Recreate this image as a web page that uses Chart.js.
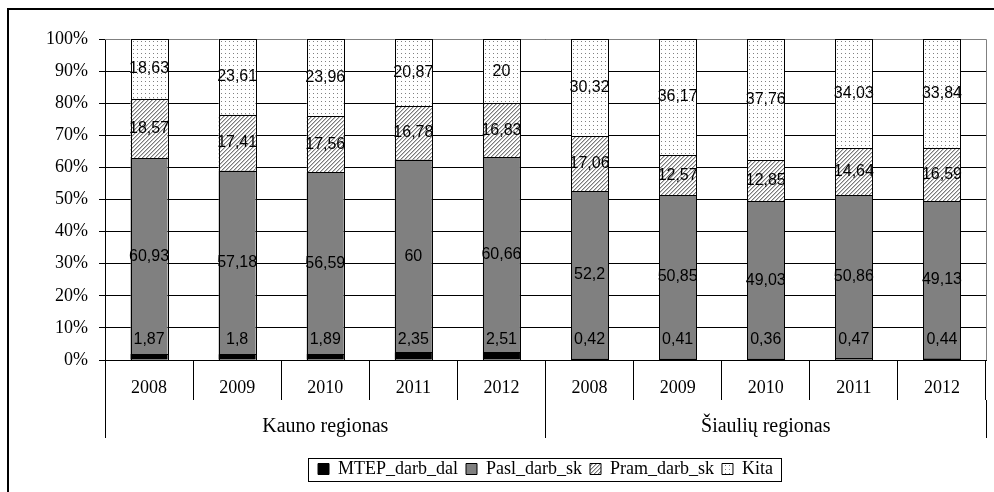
<!DOCTYPE html>
<html>
<head>
<meta charset="utf-8">
<script src="https://cdn.jsdelivr.net/npm/chart.js@4.4.1/dist/chart.umd.min.js"></script>
<style>
html,body{margin:0;padding:0;background:#fff;}
#wrap{position:relative;width:994px;height:492px;overflow:hidden;}
#frame{position:absolute;left:7px;top:8px;width:1000px;height:500px;border-left:2px solid #000;border-top:2px solid #000;pointer-events:none;}
canvas{position:absolute;left:0;top:0;}
</style>
</head>
<body>
<div id="wrap">
  <canvas id="c" width="994" height="492"></canvas>
  <div id="frame"></div>
</div>
<script>
var years = ['2008','2009','2010','2011','2012','2008','2009','2010','2011','2012'];
var regions = ['Kauno regionas','Šiaulių regionas'];
var mtep = [1.87,1.8,1.89,2.35,2.51,0.42,0.41,0.36,0.47,0.44];
var pasl = [60.93,57.18,56.59,60,60.66,52.2,50.85,49.03,50.86,49.13];
var pram = [18.57,17.41,17.56,16.78,16.83,17.06,12.57,12.85,14.64,16.59];
var kita = [18.63,23.61,23.96,20.87,20,30.32,36.17,37.76,34.03,33.84];
var yTicks = [0,10,20,30,40,50,60,70,80,90,100];

// fill patterns
function hatch(){
  var c = document.createElement('canvas');
  c.width = 4; c.height = 4;
  var g = c.getContext('2d');
  g.fillStyle = '#fff'; g.fillRect(0,0,4,4);
  for(var i=0;i<4;i++){
    g.fillStyle = '#7a7a7a'; g.fillRect(i,3-i,1,1);
    g.fillStyle = '#c4c4c4'; g.fillRect(i,(4-i)%4,1,1);
  }
  return g.createPattern(c,'repeat');
}
function dots(){
  var c = document.createElement('canvas');
  c.width = 4; c.height = 4;
  var g = c.getContext('2d');
  g.fillStyle = '#fff'; g.fillRect(0,0,4,4);
  g.fillStyle = '#808080'; g.fillRect(1,1,1,1);
  return g.createPattern(c,'repeat');
}

Chart.defaults.font.family = 'Liberation Serif';
Chart.defaults.color = '#000';

var extras = {
  id: 'extras',
  afterLayout: function(chart){
    // legend sits under the middle of the plot area
    var a = chart.chartArea, lg = chart.legend;
    var d = (a.left + a.right)/2 - (lg.left + lg.right)/2;
    lg.left += d; lg.right += d;
  },
  beforeDatasetsDraw: function(chart){
    var a = chart.chartArea, ctx = chart.ctx;
    var t = Math.round(a.top)+0.5, r = Math.round(a.right)+0.5;
    ctx.save();
    ctx.strokeStyle = '#808080';
    ctx.lineWidth = 1;
    ctx.beginPath();
    ctx.moveTo(a.left, t);
    ctx.lineTo(r, t);
    ctx.lineTo(r, a.bottom);
    ctx.stroke();
    ctx.restore();
  },
  afterDatasetsDraw: function(chart){
    var ctx = chart.ctx, a = chart.chartArea;
    ctx.save();
    // crisp outlines round each segment
    ctx.strokeStyle = '#000';
    ctx.lineWidth = 1;
    chart.data.datasets.forEach(function(ds,i){
      chart.getDatasetMeta(i).data.forEach(function(bar){
        var x0 = Math.round(bar.x - bar.width/2), x1 = Math.round(bar.x + bar.width/2);
        var y0 = Math.round(bar.y), y1 = Math.round(bar.base);
        ctx.strokeRect(x0+0.5, y0+0.5, x1-x0, y1-y0);
      });
    });
    ctx.font = '16px "Liberation Sans"';
    ctx.fillStyle = '#000';
    ctx.textAlign = 'center';
    ctx.textBaseline = 'middle';
    chart.data.datasets.forEach(function(ds,i){
      chart.getDatasetMeta(i).data.forEach(function(bar,j){
        var y = (bar.y+bar.base)/2;
        y = Math.min(y, a.bottom-20);
        ctx.fillText(String(ds.data[j]).replace('.',','), bar.x, y);
      });
    });
    ctx.restore();
  },
  afterDraw: function(chart){
    var hb = chart.legend.legendHitBoxes;
    if(!hb || !hb.length) return;
    var l = Math.min.apply(null, hb.map(function(h){return h.left;}));
    var r = Math.max.apply(null, hb.map(function(h){return h.left+h.width;}));
    var t = hb[0].top, b = hb[0].top+hb[0].height;
    var ctx = chart.ctx;
    ctx.save();
    ctx.strokeStyle = '#000';
    ctx.lineWidth = 1;
    ctx.strokeRect(Math.round(l-10)+0.5, Math.round(t-2)+0.5, Math.round(r-l+18), Math.round(b-t+5));
    ctx.restore();
  }
};

new Chart(document.getElementById('c'), {
  type: 'bar',
  data: {
    labels: years,
    datasets: [
      {label: 'MTEP_darb_dal', data: mtep, backgroundColor: '#000', borderWidth: 0},
      {label: 'Pasl_darb_sk', data: pasl, backgroundColor: '#808080', borderWidth: 0},
      {label: 'Pram_darb_sk', data: pram, backgroundColor: hatch(), borderWidth: 0},
      {label: 'Kita', data: kita, backgroundColor: dots(), borderWidth: 0}
    ]
  },
  options: {
    responsive: false,
    animation: false,
    devicePixelRatio: 1,
    barPercentage: 0.42,
    categoryPercentage: 1,
    layout: {padding: {top: 39, right: 8, bottom: 4, left: 0}},
    plugins: {
      legend: {
        position: 'bottom',
        labels: {
          boxWidth: 11, boxHeight: 11, padding: 8, color: '#000', font: {size: 18},
          generateLabels: function(chart){
            var items = Chart.defaults.plugins.legend.labels.generateLabels(chart);
            items.forEach(function(it){ it.lineWidth = 1; it.strokeStyle = '#000'; });
            return items;
          }
        }
      },
      tooltip: {enabled: false}
    },
    scales: {
      x: {
        stacked: true,
        offset: true,
        weight: 0,
        grid: {offset: true, drawOnChartArea: false, tickLength: 40, color: '#000'},
        border: {color: '#000'},
        ticks: {padding: -23, maxRotation: 0, autoSkip: false, font: {size: 18}},
        afterFit: function(s){ s.height = 40; }
      },
      x2: {
        type: 'category',
        labels: regions,
        position: 'bottom',
        offset: true,
        weight: 1,
        grid: {offset: true, drawOnChartArea: false, tickLength: 38, color: '#000'},
        border: {display: false},
        ticks: {padding: -23, maxRotation: 0, font: {size: 20}},
        afterFit: function(s){ s.height = 52; }
      },
      y: {
        stacked: true,
        min: 0,
        max: 100,
        afterBuildTicks: function(s){ s.ticks = yTicks.map(function(v){return {value: v};}); },
        grid: {color: '#000', tickLength: 6},
        border: {color: '#000'},
        ticks: {padding: 11, font: {size: 18}, callback: function(v){ return v + '%'; }},
        afterFit: function(s){ s.width = 105; }
      }
    }
  },
  plugins: [extras]
});
</script>
</body>
</html>
